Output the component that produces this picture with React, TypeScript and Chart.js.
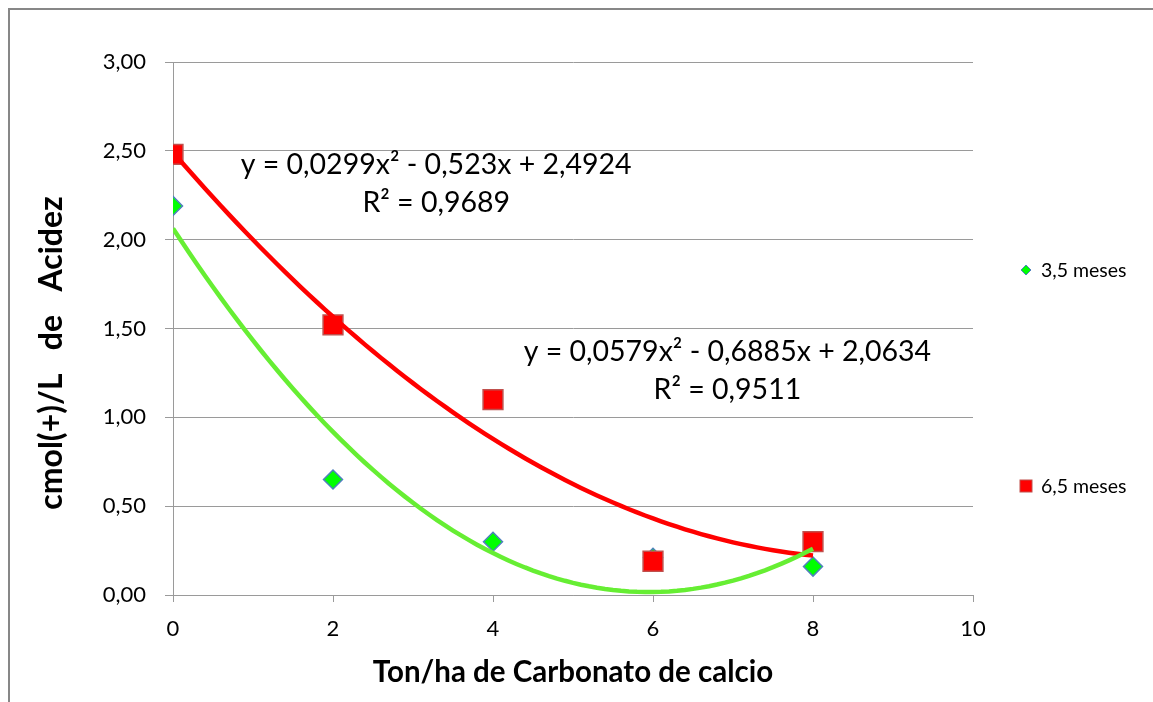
import React, { useEffect, useRef } from "react";
import { Chart, registerables } from "chart.js";

Chart.register(...registerables);

// ---- data ----
const doses = [0, 2, 4, 6, 8];
const acidez35 = [2.19, 0.65, 0.3, 0.21, 0.16];
const acidez65 = [2.48, 1.52, 1.1, 0.19, 0.3];
const trend35Coef = [0.0579, -0.6885, 2.0634]; // a, b, c
const trend65Coef = [0.0299, -0.523, 2.4924];
const seriesLabels = ["3,5 meses", "6,5 meses"];
const eq35Text = ["y = 0,0579x² - 0,6885x + 2,0634", "R² = 0,9511"];
const eq65Text = ["y = 0,0299x² - 0,523x + 2,4924", "R² = 0,9689"];
const xTickValues = [0, 2, 4, 6, 8, 10];
const xTickLabels = ["0", "2", "4", "6", "8", "10"];
const yTickValues = [0, 0.5, 1, 1.5, 2, 2.5, 3];
const yTickLabels = ["0,00", "0,50", "1,00", "1,50", "2,00", "2,50", "3,00"];
const xTitle = "Ton/ha de Carbonato de calcio";
const yTitle = "cmol(+)/L   de   Acidez";

const FONT = "Lato";
const GRID = "#9a9a9a";
const GREEN_LINE = "#66ee33";
const GREEN_FILL = "#00ff00";
const BLUE_EDGE = "#4f81bd";
const RED = "#ff0000";
const RED_EDGE = "#c0504d";

const CW = 1145;
const CH = 694;

function trendPoints(coef: number[]) {
  const pts: { x: number; y: number }[] = [];
  const xMin = doses[0];
  const xMax = doses[doses.length - 1];
  const n = 80;
  for (let i = 0; i <= n; i++) {
    const x = xMin + ((xMax - xMin) * i) / n;
    pts.push({ x, y: coef[0] * x * x + coef[1] * x + coef[2] });
  }
  return pts;
}

const decorPlugin = {
  id: "decor",
  afterDraw(chart: any) {
    const ctx = chart.ctx as CanvasRenderingContext2D;
    const xs = chart.scales.x;
    const ys = chart.scales.y;
    ctx.save();
    // outer border (top and left visible)
    ctx.strokeStyle = "#878787";
    ctx.lineWidth = 2;
    ctx.beginPath();
    ctx.moveTo(1, chart.height);
    ctx.lineTo(1, 1);
    ctx.lineTo(chart.width, 1);
    ctx.stroke();

    ctx.fillStyle = "#000";
    ctx.textAlign = "center";
    ctx.textBaseline = "middle";
    // equations
    ctx.font = `28.5px ${FONT}`;
    ctx.fillText(eq65Text[0], xs.getPixelForValue(3.29), ys.getPixelForValue(2.42));
    ctx.fillText(eq65Text[1], xs.getPixelForValue(3.29), ys.getPixelForValue(2.205));
    ctx.fillText(eq35Text[0], xs.getPixelForValue(6.93), ys.getPixelForValue(1.367));
    ctx.fillText(eq35Text[1], xs.getPixelForValue(6.93), ys.getPixelForValue(1.154));

    // axis titles
    ctx.font = `bold 29.5px ${FONT}`;
    ctx.fillText(xTitle, 565, 664);
    ctx.save();
    ctx.translate(44, 345);
    ctx.rotate(-Math.PI / 2);
    ctx.font = `bold 32px ${FONT}`;
    ctx.fillText(yTitle, 0, 0);
    ctx.restore();

    // legend
    const items = [
      { label: seriesLabels[0], y: 262, style: "diamond" },
      { label: seriesLabels[1], y: 478, style: "square" },
    ];
    ctx.font = `19.5px ${FONT}`;
    ctx.textAlign = "left";
    for (const it of items) {
      const mx = 1018;
      if (it.style === "diamond") {
        ctx.beginPath();
        ctx.moveTo(mx - 5, it.y);
        ctx.lineTo(mx, it.y - 5);
        ctx.lineTo(mx + 5, it.y);
        ctx.lineTo(mx, it.y + 5);
        ctx.closePath();
        ctx.fillStyle = GREEN_FILL;
        ctx.fill();
        ctx.strokeStyle = BLUE_EDGE;
        ctx.lineWidth = 1;
        ctx.stroke();
      } else {
        ctx.fillStyle = RED;
        ctx.fillRect(mx - 6, it.y - 6, 12, 12);
        ctx.strokeStyle = RED_EDGE;
        ctx.lineWidth = 1;
        ctx.strokeRect(mx - 6, it.y - 6, 12, 12);
      }
      ctx.fillStyle = "#000";
      ctx.fillText(it.label, 1033, it.y + 1);
    }
    ctx.restore();
  },
};

export default function App() {
  const ref = useRef<HTMLCanvasElement | null>(null);

  useEffect(() => {
    if (!ref.current) return;
    const chart = new Chart(ref.current, {
      type: "scatter",
      data: {
        datasets: [
          {
            label: "trend 3,5",
            data: trendPoints(trend35Coef),
            showLine: true,
            borderColor: GREEN_LINE,
            borderWidth: 4.5,
            pointRadius: 0,
            fill: false,
          },
          {
            label: "trend 6,5",
            data: trendPoints(trend65Coef),
            showLine: true,
            borderColor: RED,
            borderWidth: 4.5,
            pointRadius: 0,
            fill: false,
          },
          {
            label: seriesLabels[1],
            data: doses.map((x, i) => ({ x, y: acidez65[i] })),
            pointStyle: "rect",
            pointRadius: 14,
            backgroundColor: RED,
            borderColor: RED_EDGE,
            borderWidth: 1.5,
          },
          {
            label: seriesLabels[0],
            data: doses.map((x, i) => ({ x, y: acidez35[i] })),
            pointStyle: "rectRot",
            pointRadius: 9.5,
            backgroundColor: GREEN_FILL,
            borderColor: BLUE_EDGE,
            borderWidth: 1.5,
          },
        ],
      },
      options: {
        responsive: false,
        animation: false,
        layout: { padding: { left: 0, top: 54, right: CW - 965, bottom: 0 } },
        plugins: {
          legend: { display: false },
          tooltip: { enabled: false },
        },
        scales: {
          x: {
            type: "linear",
            min: 0,
            max: 10,
            afterBuildTicks: (s: any) => {
              s.ticks = xTickValues.map((v) => ({ value: v }));
            },
            afterFit: (s: any) => {
              s.height = CH - 587;
            },
            ticks: {
              callback: (_v: any, i: number) => xTickLabels[i],
              font: { family: FONT, size: 22 },
              color: "#000",
              padding: 14,
              maxRotation: 0,
            },
            grid: {
              drawOnChartArea: false,
              drawTicks: true,
              tickLength: 7,
              color: GRID,
              lineWidth: 1,
            },
            border: { display: true, color: GRID, width: 1 },
          },
          y: {
            type: "linear",
            min: 0,
            max: 3,
            afterBuildTicks: (s: any) => {
              s.ticks = yTickValues.map((v) => ({ value: v }));
            },
            afterFit: (s: any) => {
              s.width = 165;
            },
            ticks: {
              callback: (_v: any, i: number) => yTickLabels[i],
              font: { family: FONT, size: 22 },
              color: "#000",
              padding: 19,
            },
            grid: {
              color: GRID,
              lineWidth: 1,
              tickLength: 8,
              drawTicks: true,
            },
            border: { display: true, color: GRID, width: 1 },
          },
        },
      },
      plugins: [decorPlugin],
    } as any);
    return () => chart.destroy();
  }, []);

  return (
    <canvas
      ref={ref}
      width={CW}
      height={CH}
      style={{ display: "block", position: "fixed", left: 8, top: 8, width: CW, height: CH }}
    />
  );
}
